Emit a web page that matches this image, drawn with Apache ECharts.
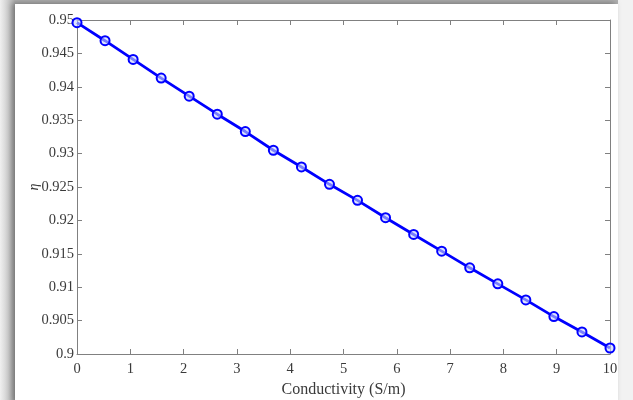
<!DOCTYPE html>
<html>
<head>
<meta charset="utf-8">
<script src="https://cdn.jsdelivr.net/npm/echarts@6/dist/echarts.min.js"></script>
<style>
html,body{margin:0;padding:0;width:633px;height:400px;overflow:hidden;background:linear-gradient(to right,#f0f0f0 0px,#b0b0b0 15px);}
#frame{position:absolute;left:15px;top:4px;width:603px;height:400px;background:#fff;box-shadow:-3px -1px 6px rgba(0,0,0,0.35);}
#right{position:absolute;left:618px;top:0;width:15px;height:400px;background:#f2f2f2;}
#chart{position:absolute;left:0;top:0;width:633px;height:400px;}
</style>
</head>
<body>
<div id="right"></div>
<div id="frame"></div>
<div id="chart"></div>
<script>
var conductivity = [0, 0.526, 1.053, 1.579, 2.105, 2.632, 3.158, 3.684, 4.211, 4.737, 5.263, 5.789, 6.316, 6.842, 7.368, 7.895, 8.421, 8.947, 9.474, 10];
var eta = [0.9496, 0.9469, 0.9441, 0.9413, 0.9386, 0.9359, 0.9333, 0.9305, 0.9280, 0.9254, 0.9230, 0.9204, 0.9179, 0.9154, 0.9129, 0.9105, 0.9081, 0.9056, 0.9033, 0.9009];
var xTicks = [0,1,2,3,4,5,6,7,8,9,10];
var yTickLabels = ['0.9','0.905','0.91','0.915','0.92','0.925','0.93','0.935','0.94','0.945','0.95'];

var pts = conductivity.map(function(x,i){return [x, eta[i]];});
var font = 'Liberation Serif';
var axisCol = '#808080';
var txtCol = '#3a3a3a';
var chart = echarts.init(document.getElementById('chart'), null, {renderer:'canvas'});
var lineStyle = {color: axisCol, width: 1};
chart.setOption({
  animation: false,
  backgroundColor: 'transparent',
  grid: {left: 77, right: 23, top: 20, bottom: 46, containLabel: false, outerBoundsMode: 'none'},
  xAxis: [{
    type: 'value', min: 0, max: 10, interval: 1, position: 'bottom',
    axisLine: {show: true, onZero: false, lineStyle: lineStyle},
    axisTick: {show: true, inside: true, length: 5, lineStyle: lineStyle},
    axisLabel: {color: txtCol, fontFamily: font, fontSize: 14.5, margin: 8,
      formatter: function(v){ return String(xTicks[Math.round(v)]); }},
    splitLine: {show: false},
    name: 'Conductivity (S/m)', nameLocation: 'middle', nameGap: 28, nameMoveOverlap: false,
    nameTextStyle: {color: txtCol, fontFamily: font, fontSize: 16}
  }, {
    type: 'value', min: 0, max: 10, interval: 1, position: 'top',
    axisLine: {show: true, onZero: false, lineStyle: lineStyle},
    axisTick: {show: true, inside: true, length: 5, lineStyle: lineStyle},
    axisLabel: {show: false}, splitLine: {show: false}
  }],
  yAxis: [{
    type: 'value', min: 0.9, max: 0.95, interval: 0.005, position: 'left',
    axisLine: {show: true, onZero: false, lineStyle: lineStyle},
    axisTick: {show: true, inside: true, length: 5, lineStyle: lineStyle},
    axisLabel: {color: txtCol, fontFamily: font, fontSize: 14.5, margin: 3,
      formatter: function(v){ var i = Math.round((v-0.9)/0.005); return yTickLabels[i] || ''; }},
    splitLine: {show: false},
    name: 'η', nameLocation: 'middle', nameGap: 36, nameRotate: 90, nameMoveOverlap: false,
    nameTextStyle: {color: txtCol, fontFamily: font, fontSize: 14, fontStyle: 'italic'}
  }, {
    type: 'value', min: 0.9, max: 0.95, interval: 0.005, position: 'right',
    axisLine: {show: true, onZero: false, lineStyle: lineStyle},
    axisTick: {show: true, inside: true, length: 5, lineStyle: lineStyle},
    axisLabel: {show: false}, splitLine: {show: false}
  }],
  series: [{
    type: 'line', data: pts, xAxisIndex: 0, yAxisIndex: 0,
    lineStyle: {color: '#0000ff', width: 2.8},
    symbol: 'circle', symbolSize: 9, showAllSymbol: true,
    itemStyle: {color: 'rgba(200,210,255,0.6)', borderColor: '#0000ff', borderWidth: 2},
    clip: false, z: 5
  }]
});
</script>
</body>
</html>
